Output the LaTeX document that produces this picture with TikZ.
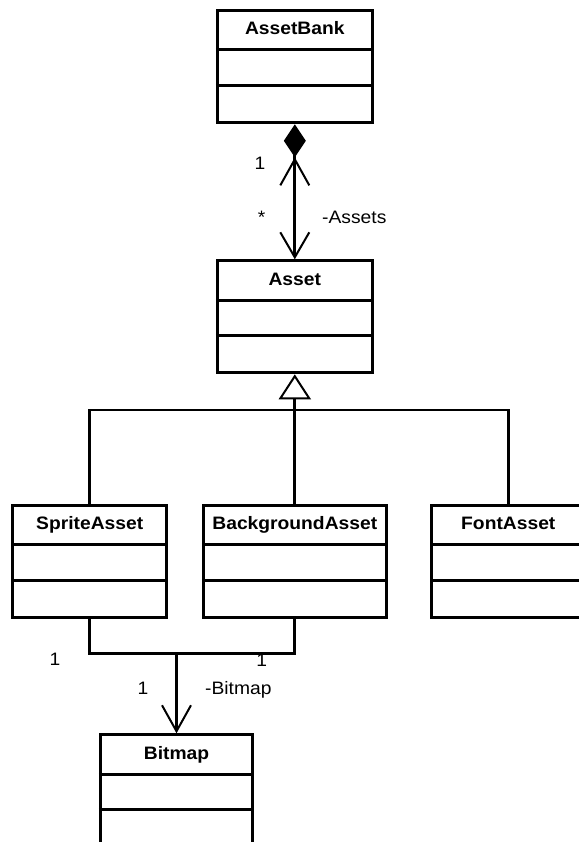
\documentclass[tikz,border=0pt]{standalone}
\usepackage{fontspec}
\setmainfont[FakeStretch=1.07]{Liberation Sans}
\usetikzlibrary{arrows.meta,calc}

\tikzset{
  classbox/.style={draw, line width=3pt, minimum height=112pt, inner sep=0pt, anchor=north},
  divider/.style={line width=3pt},
  classname/.style={font=\bfseries\fontsize{18}{20}\selectfont, anchor=base, inner sep=0pt},
  rolelabel/.style={font=\fontsize{18}{20}\selectfont, inner sep=0pt, anchor=base},
  link/.style={line width=2.8pt},
  navarrow/.style={-{Straight Barb[length=26pt,width=29pt,line width=2pt]}},
  composition/.style={{Diamond[length=33pt,width=22pt,sep=0pt] Straight Barb[length=26pt,width=29pt,line width=2pt,sep=0pt]}-{Straight Barb[length=25pt,width=29pt,line width=2pt]}},
  inherits/.style={-{Triangle[open,length=25pt,width=32pt,line width=2pt]}}
}

% class box: name, centre x, top y, width, class name
\newcommand\umlclass[5]{%
  \node[classbox, minimum width=#4pt] (#1) at (#2,#3) {};
  \node[classname] (#1-name) at ($(#1.north)+(0,25.7)$) {#5};
  \draw[divider] ($(#1.north west)+(0,40.7)$) -- ($(#1.north east)+(0,40.7)$);
  \draw[divider] ($(#1.north west)+(0,76.5)$) -- ($(#1.north east)+(0,76.5)$);
}

\begin{document}
\begin{tikzpicture}[x=1pt,y=-1pt]
\useasboundingbox (0,0) rectangle (578,842);
\fill[white] (0,0) rectangle (578,842);

\umlclass{bank}{294.8}{9.3}{155}{AssetBank}
\umlclass{asset}{294.8}{259.3}{155}{Asset}
\umlclass{sprite}{89.7}{504}{154}{SpriteAsset}
\umlclass{bg}{294.8}{504}{182.7}{BackgroundAsset}
\umlclass{font}{508.3}{504}{153.2}{FontAsset}
\umlclass{bitmap}{176.5}{733.3}{152.3}{Bitmap}

% AssetBank owns its assets
\draw[link, composition] (bank.south) -- (asset.north);
\node[rolelabel] (bankmult) at (260,170) {1};
\node[rolelabel] (assetmult) at (261.5,223) {*};
\node[rolelabel, anchor=base west] (assetrole) at (322,223) {-Assets};

% inheritance tree
\coordinate (bus) at (294.8,410);
\draw[link] (sprite.north) |- (bus) -| (font.north);
\draw[link, inherits] (bg.north) -- (asset.south);

% bitmap association
\node[rolelabel] (spritemult) at (55,665.7) {1};
\node[rolelabel] (bgmult) at (261.7,666.5) {1};
\node[rolelabel] (bitmapmult) at (143,694.5) {1};
\node[rolelabel, anchor=base west] (bitmaprole) at (205,694) {-Bitmap};
\coordinate (join) at (176.5,653.3);
\draw[link] (sprite.south) |- (join) -| (bg.south);
\draw[link, navarrow] (join) -- (bitmap.north);
\end{tikzpicture}
\end{document}
